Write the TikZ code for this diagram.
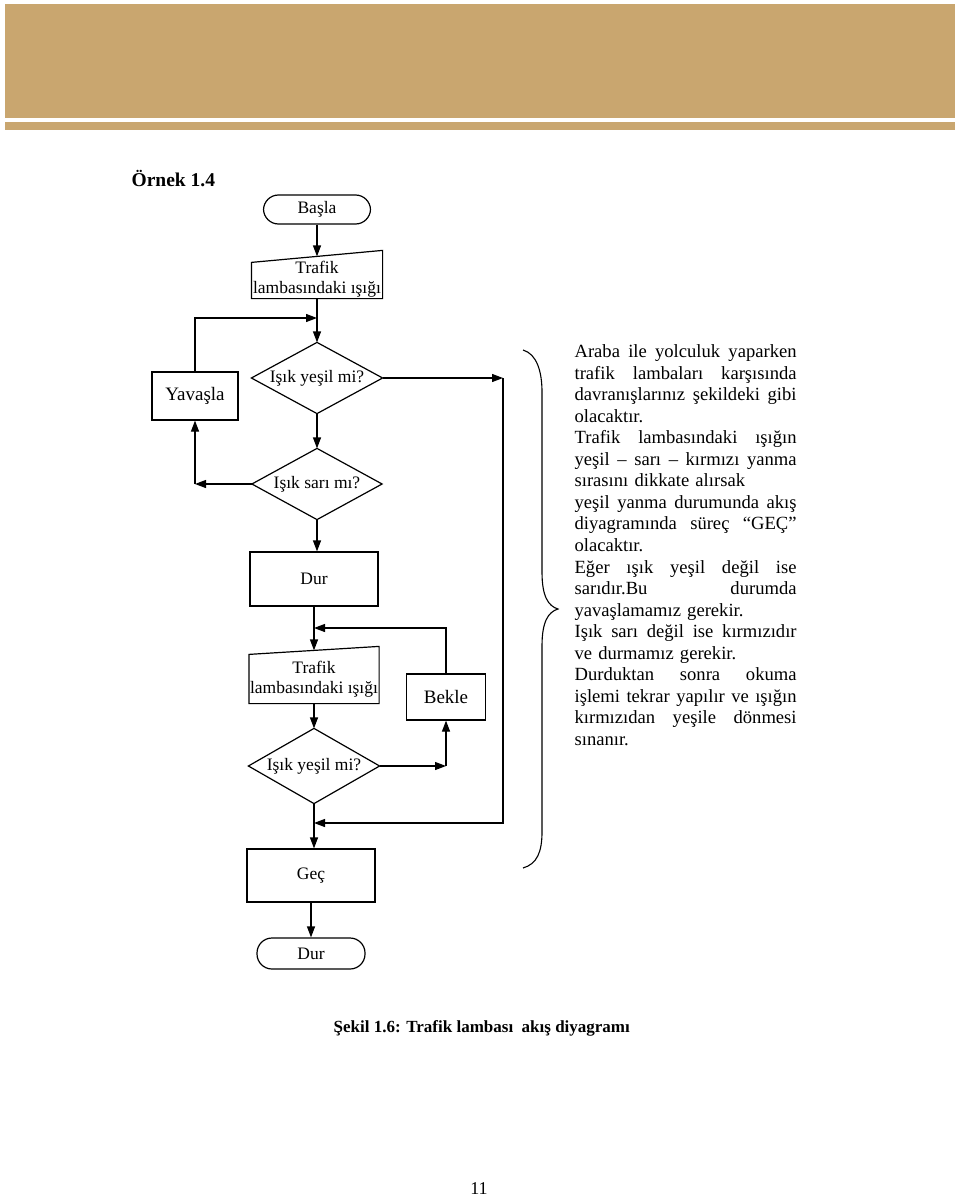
\documentclass[tikz,border=0pt]{standalone}
\usepackage{fontspec}
\setmainfont{Liberation Serif}
\usetikzlibrary{arrows.meta,calc}
\definecolor{tan}{RGB}{201,166,111}
\newcommand\jline[1]{\leavevmode\hbox to 222pt{\spaceskip=0.25em plus 1fil\relax #1}}
\begin{document}
\begin{tikzpicture}[x=1pt,y=-1pt,
  line width=1.2pt,
  arr/.style={-{Triangle[length=11pt,width=8pt]}},
  lbl/.style={font=\fontsize{17.5}{20}\selectfont, align=center, inner sep=0pt},
  big/.style={font=\fontsize{19}{21}\selectfont},
  boxn/.style={lbl, draw, minimum width=#1, line width=1.2pt},
  shapen/.style={inner sep=0pt, minimum width=#1},
  term/.style={lbl, draw, rounded corners=15pt, line width=1.2pt},
]
\useasboundingbox (0,0) rectangle (960,1198);
% header bands
\fill[tan] (5,4) rectangle (955,118);
\fill[tan] (5,122) rectangle (955,130);

% title
\node[anchor=west, font=\fontsize{19.5}{22}\selectfont\bfseries, inner sep=0pt] (title) at (131,179) {Örnek 1.4};

% start
\node[term, minimum width=107pt, minimum height=29pt] (basla) at (317,209.5) {Başla};

% input 1
\node[shapen=130pt, minimum height=47pt] (in1) at (317,274.5) {};
\node[lbl] (in1t) at ($(in1)+(0,5)$) {Trafik\\lambasındaki ışığı};
\draw (in1.south west) -- (in1.south east) -- (in1.north east) -- ($(in1.north west)+(0,12)$) -- cycle;

% decisions
\node[lbl, shapen=130pt, minimum height=70pt] (d1) at (317,378) {Işık yeşil mi?};
\draw (d1.west) -- (d1.north) -- (d1.east) -- (d1.south) -- cycle;
\node[lbl, shapen=129pt, minimum height=70pt] (d2) at (317,484) {Işık sarı mı?};
\draw (d2.west) -- (d2.north) -- (d2.east) -- (d2.south) -- cycle;

% Yavasla
\node[boxn=86pt, minimum height=48pt, big] (yav) at (195,396) {Yavaşla};

% Dur box
\node[boxn=128pt, minimum height=54pt] (dur) at (314,579) {Dur};

% input 2
\node[shapen=129pt, minimum height=56pt] (in2) at (314,675) {};
\node[lbl] (in2t) at ($(in2)+(0,4)$) {Trafik\\lambasındaki ışığı};
\draw (in2.south west) -- (in2.south east) -- (in2.north east) -- ($(in2.north west)+(0,8)$) -- cycle;

% Bekle
\node[boxn=79pt, minimum height=46pt, big] (bekle) at (446,697) {Bekle};

% decision 3
\node[lbl, shapen=130pt, minimum height=74pt] (d3) at (314,766) {Işık yeşil mi?};
\draw (d3.west) -- (d3.north) -- (d3.east) -- (d3.south) -- cycle;

% Gec and end
\node[boxn=128pt, minimum height=53pt] (gec) at (311,875.5) {Geç};
\node[term, minimum width=108pt, minimum height=31pt] (dur2) at (311,953.5) {Dur};

% helper coordinates
\coordinate (j1) at (317,318);
\coordinate (r1) at (503,378);
\coordinate (j3) at (314,823);
\coordinate (c2) at (195,484);
\coordinate (j2) at (314,628);
\coordinate (c3) at (446,766);

% connectors
\draw[arr] (basla.south) -- ($(in1.north)+(0,6)$);
\draw[arr] (in1.south) -- (d1.north);
\draw[arr] (yav.north) |- (j1);
\draw[arr] (d1.south) -- (d2.north);
\draw[arr] (d1.east) -- (r1);
\draw[arr] (r1) |- (j3);
\draw[arr] (d2.west) -- (c2);
\draw[arr] (c2) -- (yav.south);
\draw[arr] (d2.south) -- (d2.south |- dur.north);
\draw[arr] (dur.south) -- ($(in2.north)+(0,4)$);
\draw[arr] (bekle.north) |- (j2);
\draw[arr] (in2.south) -- (d3.north);
\draw[arr] (d3.east) -- (c3);
\draw[arr] (c3) -- (bekle.south);
\draw[arr] (d3.south) -- (d3.south |- gec.north);
\draw[arr] (gec.south) -- (dur2.north);

% brace
\draw[line width=1.1pt] (523,350) .. controls (537,354) and (542,372) .. (542,392)
  -- (542,572) .. controls (542,596) and (548,606) .. (558,609)
  .. controls (548,612) and (542,622) .. (542,646)
  -- (542,832) .. controls (542,852) and (537,864) .. (523,868);

% explanatory text
\node[anchor=north west, inner sep=0pt, align=left, text width=224pt,
  font=\fontsize{18.6}{21.55}\selectfont] (expl) at (574,344) {%
\jline{Araba ile yolculuk yaparken}\\
\jline{trafik lambaları karşısında}\\
\jline{davranışlarınız şekildeki gibi}\\
olacaktır.\\
\jline{Trafik lambasındaki ışığın}\\
\jline{yeşil – sarı – kırmızı yanma}\\
sırasını dikkate alırsak\\
\jline{yeşil yanma durumunda akış}\\
\jline{diyagramında süreç “GEÇ”}\\
olacaktır.\\
\jline{Eğer ışık yeşil değil ise}\\
\jline{sarıdır.Bu durumda}\\
yavaşlamamız gerekir.\\
\jline{Işık sarı değil ise kırmızıdır}\\
ve durmamız gerekir.\\
\jline{Durduktan sonra okuma}\\
\jline{işlemi tekrar yapılır ve ışığın}\\
\jline{kırmızıdan yeşile dönmesi}\\
sınanır.};

% caption
\node[anchor=west, inner sep=0pt, font=\fontsize{17}{20}\selectfont\bfseries] (cap) at (333,1028) {Şekil 1.6: Trafik lambası\ \ akış diyagramı};

% page number
\node[inner sep=0pt, font=\fontsize{18}{20}\selectfont] (pg) at (479,1189) {11};
\end{tikzpicture}
\end{document}
